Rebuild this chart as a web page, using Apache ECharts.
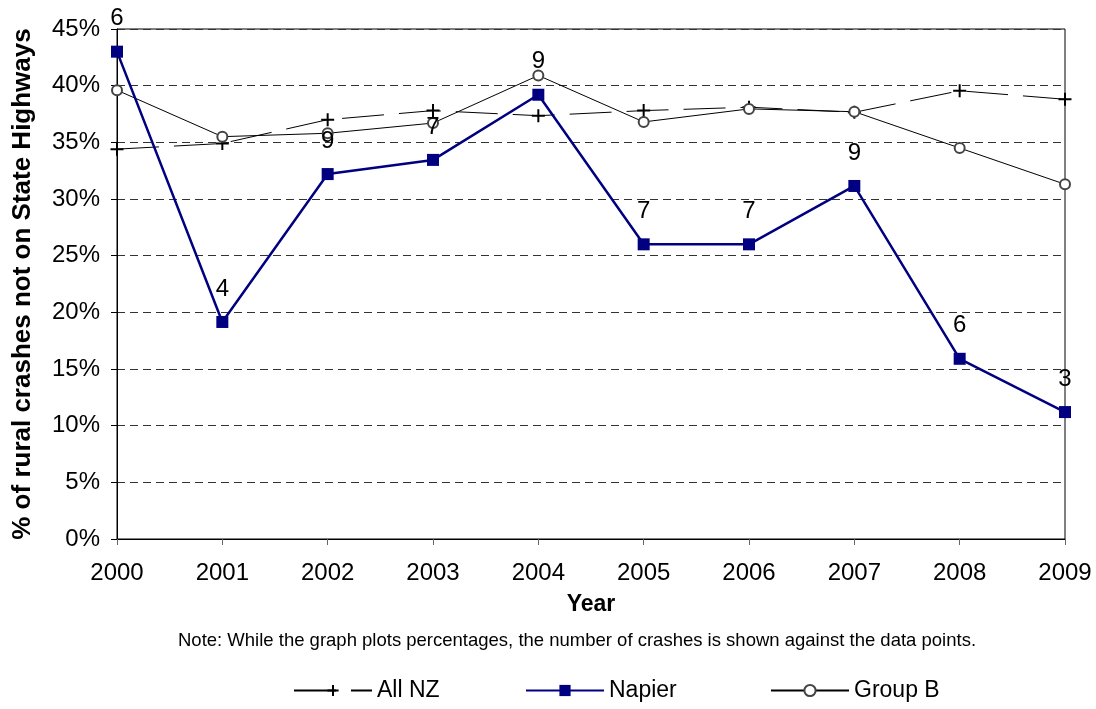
<!DOCTYPE html>
<html>
<head>
<meta charset="utf-8">
<script src="https://cdn.jsdelivr.net/npm/echarts@6/dist/echarts.min.js"></script>
<style>html,body{margin:0;padding:0;background:#fff}#c{width:1096px;height:709px}</style>
</head>
<body>
<div id="c"></div>
<script>
const years = ['2000','2001','2002','2003','2004','2005','2006','2007','2008','2009'];
const allNZ = [34.4, 34.9, 37.0, 37.8, 37.35, 37.8, 38.1, 37.65, 39.55, 38.8];
const napier = [43.0, 19.15, 32.2, 33.45, 39.2, 26.0, 26.0, 31.15, 15.9, 11.2];
const groupB = [39.6, 35.5, 35.8, 36.7, 40.9, 36.8, 37.95, 37.7, 34.5, 31.3];
const napierCounts = [6, 4, 9, 7, 9, 7, 7, 9, 6, 3];
const yTicks = [0, 5, 10, 15, 20, 25, 30, 35, 40, 45];

const FONT = 'Liberation Sans, Arial, sans-serif';
const chart = echarts.init(document.getElementById('c'), null, {renderer: 'canvas'});
const legendBase = {
  orient: 'horizontal', top: 674, itemWidth: 78, itemHeight: 14, itemGap: 4,
  textStyle: {fontFamily: FONT, fontSize: 23, color: '#000'}
};
chart.setOption({
  animation: false,
  backgroundColor: '#fff',
  grid: {left: 117, right: 31, top: 29, bottom: 170, show: true, borderColor: '#000', borderWidth: 1, backgroundColor: 'transparent'},
  legend: [
    Object.assign({}, legendBase, {left: 288, data: ['All NZ']}),
    Object.assign({}, legendBase, {left: 520, data: ['Napier']}),
    Object.assign({}, legendBase, {left: 765, data: ['Group B']})
  ],
  graphic: [{
    type: 'text', left: 178, top: 631,
    style: {text: 'Note: While the graph plots percentages, the number of crashes is shown against the data points.', font: '18.5px ' + FONT, fill: '#000'}
  }],
  xAxis: {
    type: 'category', data: years, boundaryGap: false,
    name: 'Year', nameLocation: 'middle', nameGap: 54,
    nameTextStyle: {fontFamily: FONT, fontSize: 23, fontWeight: 'bold', color: '#000'},
    axisLine: {lineStyle: {color: '#000', width: 1}},
    axisTick: {show: true, length: 6, lineStyle: {color: '#666'}},
    axisLabel: {fontFamily: FONT, fontSize: 24, color: '#000', margin: 22},
    splitLine: {show: false}
  },
  yAxis: {
    type: 'value', min: 0, max: 45, interval: 5,
    name: '% of rural crashes not on State Highways', nameLocation: 'middle', nameGap: 81,
    nameTextStyle: {fontFamily: FONT, fontSize: 26, fontWeight: 'bold', color: '#000'},
    axisLine: {show: true, lineStyle: {color: '#000', width: 1}},
    axisTick: {show: true, length: 6, lineStyle: {color: '#000'}},
    axisLabel: {fontFamily: FONT, fontSize: 24, color: '#000', margin: 17, formatter: v => yTicks.includes(v) ? v + '%' : ''},
    splitLine: {show: true, lineStyle: {color: '#333', type: [8, 5], width: 1}}
  },
  series: [
    {
      name: 'All NZ', type: 'line', data: allNZ,
      symbol: 'path://M-1,0 L1,0 M0,-1 L0,1', symbolSize: 13,
      itemStyle: {color: '#000', borderColor: '#000', borderWidth: 2},
      lineStyle: {color: '#000', width: 1, type: [42, 15]},
      z: 3
    },
    {
      name: 'Group B', type: 'line', data: groupB,
      symbol: 'emptyCircle', symbolSize: 10,
      itemStyle: {color: '#444', borderColor: '#444', borderWidth: 2},
      lineStyle: {color: '#000', width: 1},
      z: 4
    },
    {
      name: 'Napier', type: 'line', data: napier,
      symbol: 'rect', symbolSize: 12,
      itemStyle: {color: '#000080'},
      lineStyle: {color: '#000080', width: 2.5},
      label: {
        show: true, position: 'top', distance: 15,
        fontFamily: FONT, fontSize: 24, color: '#000',
        formatter: p => String(napierCounts[p.dataIndex])
      },
      z: 5
    }
  ]
});
</script>
</body>
</html>
